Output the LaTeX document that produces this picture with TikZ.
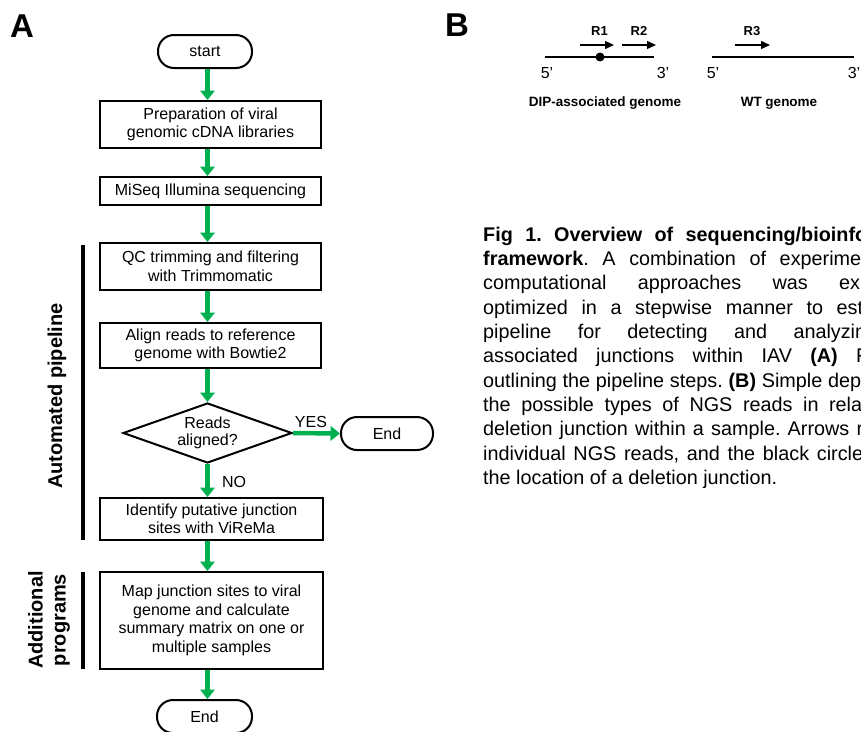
\documentclass[tikz,border=0pt]{standalone}
\usepackage{fontspec}
\setmainfont{Liberation Sans}
\usetikzlibrary{shapes.geometric,arrows.meta}
\definecolor{flowgreen}{RGB}{0,176,80}
\frenchspacing
\begin{document}
\begin{tikzpicture}[x=1pt,y=-1pt,
  box/.style={draw, line width=2pt, minimum width=221pt, inner sep=0pt, align=center, font=\fontsize{16}{18.5}\selectfont},
  term/.style={draw, line width=2pt, rounded corners=16pt, minimum width=94pt, minimum height=33pt, inner sep=0pt, font=\fontsize{16}{18}\selectfont},
  decision/.style={draw, diamond, aspect=2.8, line width=2pt, minimum width=169pt, minimum height=60pt, inner sep=0pt, align=center, font=\fontsize{16}{17}\selectfont},
  flow/.style={draw=flowgreen, line width=4.5pt, -{Triangle[length=9.5pt,width=14.5pt]}},
  flowlabel/.style={font=\fontsize{16}{18}\selectfont, inner sep=0pt},
  sidebar/.style={line width=3.5pt},
  sidelabel/.style={font=\fontsize{20}{23}\selectfont\bfseries, rotate=90, align=center, inner sep=0pt},
  panel/.style={font=\fontsize{33}{33}\selectfont\bfseries, anchor=base west, inner sep=0pt},
  genome/.style={line width=2pt},
  read/.style={line width=1.3pt, -{Triangle[length=9pt,width=8pt]}},
  readlabel/.style={font=\fontsize{13}{13}\selectfont\bfseries, inner sep=0pt},
  endlabel/.style={font=\fontsize{16}{16}\selectfont, inner sep=0pt},
  glabel/.style={font=\fontsize{13.5}{14}\selectfont\bfseries, inner sep=0pt},
  capline/.style={anchor=base west, inner sep=0pt, font=\fontsize{19.8}{24}\selectfont},
]
\useasboundingbox (0,0) rectangle (861,731);
\clip (0,0) rectangle (861,731);

% Panel labels
\node[panel] (labA) at (10,37) {A};
\node[panel] (labB) at (445,36) {B};

% Flowchart nodes
\node[term] (start) at (205,51.5) {start};
\node[box, minimum height=47pt] (prep) at (210.5,124.5) {Preparation of viral\\genomic cDNA libraries};
\node[box, minimum height=28pt] (miseq) at (210.5,191) {MiSeq Illumina sequencing};
\node[box, minimum height=47pt] (qc) at (210.5,266.5) {QC trimming and filtering\\with Trimmomatic};
\node[box, minimum height=45pt] (align) at (210.5,345.5) {Align reads to reference\\genome with Bowtie2};
\node[decision] (dec) at (207.5,433) {Reads\\aligned?};
\node[term, minimum width=92pt] (endA) at (387,433.5) {End};
\node[box, minimum width=223pt, minimum height=42pt] (ident) at (211.5,519) {Identify putative junction\\sites with ViReMa};
\node[box, minimum width=223pt, minimum height=97pt] (map) at (211.5,620.5) {Map junction sites to viral\\genome and calculate\\summary matrix on one or\\multiple samples};
\node[term, minimum width=95pt] (endB) at (204.5,716.5) {End};

% Flow arrows
\draw[flow] (start.south -| dec) -- (prep.north -| dec);
\draw[flow] (prep.south -| dec) -- (miseq.north -| dec);
\draw[flow] (miseq.south -| dec) -- (qc.north -| dec);
\draw[flow] (qc.south -| dec) -- (align.north -| dec);
\draw[flow] (align.south -| dec) -- (dec.north);
\draw[flow] (dec.east) -- (endA.west);
\draw[flow] (dec.south) -- (ident.north -| dec);
\draw[flow] (ident.south -| dec) -- (map.north -| dec);
\draw[flow] (map.south -| dec) -- (endB.north -| dec);

\node[flowlabel] (yes) at (311,422) {YES};
\node[flowlabel] (no) at (234,482) {NO};

% Side bars and labels
\coordinate (bar1top) at (83,245);
\coordinate (bar1bot) at (83,540);
\coordinate (bar2top) at (83,572);
\coordinate (bar2bot) at (83,669);
\draw[sidebar] (bar1top) -- (bar1bot);
\draw[sidebar] (bar2top) -- (bar2bot);
\node[sidelabel] (autolab) at (57,396) {Automated pipeline};
\node[sidelabel] (addlab) at (49,620) {Additional\\programs};

% Panel B
\coordinate (d5) at (545,57);
\coordinate (d3) at (654,57);
\coordinate (w5) at (712,57);
\coordinate (w3) at (854,57);
\draw[genome] (d5) -- (d3);
\draw[genome] (w5) -- (w3);
\node[circle, fill=black, inner sep=0pt, minimum size=9pt] (junc) at (600,57) {};
\coordinate (r1s) at (580,45);
\coordinate (r1e) at (614,45);
\coordinate (r2s) at (622,45);
\coordinate (r2e) at (656,45);
\coordinate (r3s) at (735,45);
\coordinate (r3e) at (770,45);
\draw[read] (r1s) -- (r1e);
\draw[read] (r2s) -- (r2e);
\draw[read] (r3s) -- (r3e);
\node[readlabel] (r1) at (599.5,31) {R1};
\node[readlabel] (r2) at (639,31) {R2};
\node[readlabel] (r3) at (752,31) {R3};
\node[endlabel] (d5lab) at (547,73) {5’};
\node[endlabel] (d3lab) at (663,73) {3’};
\node[endlabel] (w5lab) at (713,73) {5’};
\node[endlabel] (w3lab) at (854,73) {3’};
\node[glabel] (diplab) at (605,103) {DIP-associated genome};
\node[glabel] (wtlab) at (779,103) {WT genome};

% Caption
\node[capline] (cap1) at (483,241) {\makebox[384pt][s]{\bfseries Fig 1. Overview of sequencing/bioinfo}};
\node[capline] (cap2) at (483,265.35) {\makebox[378pt][s]{\textbf{framework}. A combination of experime}};
\node[capline] (cap3) at (483,289.7) {\makebox[377pt][s]{computational approaches was ex}};
\node[capline] (cap4) at (483,314.05) {\makebox[380pt][s]{optimized in a stepwise manner to est}};
\node[capline] (cap5) at (483,338.4) {\makebox[383pt][s]{pipeline for detecting and analyzin}};
\node[capline] (cap6) at (483,362.75) {\makebox[385pt][s]{associated junctions within IAV \textbf{(A)} F}};
\node[capline] (cap7) at (483,387.1) {\makebox[378pt][s]{outlining the pipeline steps. \textbf{(B)} Simple dep}};
\node[capline] (cap8) at (483,411.45) {\makebox[379pt][s]{the possible types of NGS reads in rela}};
\node[capline] (cap9) at (483,435.8) {\makebox[380pt][s]{deletion junction within a sample. Arrows r}};
\node[capline] (cap10) at (483,460.15) {\makebox[380pt][s]{individual NGS reads, and the black circle}};
\node[capline] (cap11) at (483,484.5) {the location of a deletion junction.};
\end{tikzpicture}
\end{document}
